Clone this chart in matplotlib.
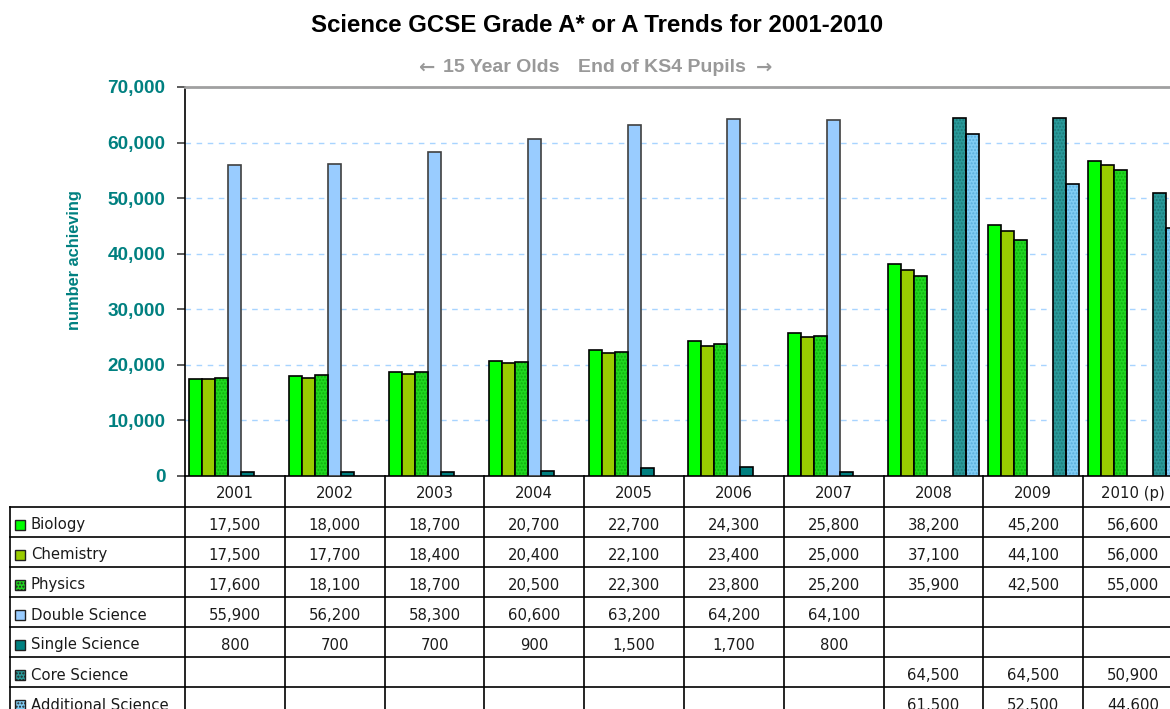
import numpy as np
import matplotlib.pyplot as plt
from matplotlib.patches import Rectangle

years = ['2001', '2002', '2003', '2004', '2005', '2006', '2007', '2008', '2009', '2010 (p)']
series_names = ['Biology', 'Chemistry', 'Physics', 'Double Science', 'Single Science',
                'Core Science', 'Additional Science']

nan = np.nan
biology = [17500, 18000, 18700, 20700, 22700, 24300, 25800, 38200, 45200, 56600]
chemistry = [17500, 17700, 18400, 20400, 22100, 23400, 25000, 37100, 44100, 56000]
physics = [17600, 18100, 18700, 20500, 22300, 23800, 25200, 35900, 42500, 55000]
double_science = [55900, 56200, 58300, 60600, 63200, 64200, 64100, nan, nan, nan]
single_science = [800, 700, 700, 900, 1500, 1700, 800, nan, nan, nan]
core_science = [nan, nan, nan, nan, nan, nan, nan, 64500, 64500, 50900]
additional_science = [nan, nan, nan, nan, nan, nan, nan, 61500, 52500, 44600]

yticks = [0, 10000, 20000, 30000, 40000, 50000, 60000, 70000]

# fill colour, hatch dot colour (None = plain), edge colour
styles = [
    ('#00ff00', None, 'black'),
    ('#99cc00', None, 'black'),
    ('#1fd81f', '#0fb00f', 'black'),
    ('#99ccff', None, '#404040'),
    ('#008080', None, 'black'),
    ('#2a9a9a', '#1f7a7a', 'black'),
    ('#80cdf5', '#5aaedc', 'black'),
]

all_series = [biology, chemistry, physics, double_science, single_science,
              core_science, additional_science]

W, H = 1170, 709
fig = plt.figure(figsize=(W / 100, H / 100), dpi=100)

# plot area in pixels (it runs off the right edge like the original)
px_left, px_right, px_top, px_bottom = 185, 1183, 87, 476
ax = fig.add_axes([px_left / W, 1 - px_bottom / H,
                   (px_right - px_left) / W, (px_bottom - px_top) / H])

n = len(years)
bw = 0.13
pad = (1 - bw * len(all_series)) / 2
x = np.arange(n)

for k, (vals, (fc, hc, ec)) in enumerate(zip(all_series, styles)):
    xs = x + pad + bw * k
    v = np.array(vals, dtype=float)
    if hc is None:
        ax.bar(xs, v, bw, align='edge', color=fc, edgecolor=ec, linewidth=1.2, zorder=3)
    else:
        ax.bar(xs, v, bw, align='edge', color=fc, edgecolor=hc, hatch='.....',
               linewidth=0, zorder=3)
        ax.bar(xs, v, bw, align='edge', fill=False, edgecolor=ec, linewidth=1.2, zorder=4)

ax.set_xlim(0, n)
ax.set_ylim(0, 70000)
ax.set_yticks(yticks)
ax.set_yticklabels([f'{t:,}' for t in yticks], color='#008080', fontweight='bold',
                   fontsize=13.7, family='Liberation Sans')
ax.tick_params(axis='y', direction='out', length=6, width=1.2, color='#404040', pad=8)
ax.set_xticks([])
ax.grid(axis='y', color='#a8d4ff', linestyle=(0, (4, 4)), linewidth=1, zorder=0)
ax.spines['top'].set_color('#a0a0a0')
ax.spines['top'].set_linewidth(2)
ax.spines['right'].set_visible(False)
ax.spines['left'].set_linewidth(1.2)
ax.spines['bottom'].set_linewidth(1.2)

fig.text(75 / W, 1 - 260 / H, 'number achieving', rotation=90, ha='center', va='center',
         color='#008080', fontweight='bold', fontsize=11.8, family='Liberation Sans')

fig.text(597 / W, 1 - 26 / H, 'Science GCSE Grade A* or A Trends for 2001-2010',
         ha='center', va='center', fontweight='bold', fontsize=17.3,
         family='Liberation Sans')

# subtitle in pieces so the arrows come out long like the original
sub_kw = dict(va='center', fontweight='bold', fontsize=14, color='#999999')
fig.text(426 / W, 1 - 67 / H, '\u2190', ha='center', family='DejaVu Sans', **sub_kw)
fig.text(501 / W, 1 - 67 / H, '15 Year Olds', ha='center', family='Liberation Sans', **sub_kw)
fig.text(662 / W, 1 - 67 / H, 'End of KS4 Pupils', ha='center', family='Liberation Sans', **sub_kw)
fig.text(764 / W, 1 - 67 / H, '\u2192', ha='center', family='DejaVu Sans', **sub_kw)

# data table below the plot
def fy(py):
    return 1 - py / H

def fx(px):
    return px / W

col_w = (px_right - px_left) / n
row_h = 30
header_top = px_bottom
header_bot = header_top + 31
tbl_left = 10
line_kw = dict(color='black', linewidth=1.2, transform=fig.transFigure)

n_rows = len(series_names)
table_bottom = header_bot + row_h * n_rows + 10
# vertical lines
for i in range(n + 1):
    xp = px_left + col_w * i
    fig.add_artist(plt.Line2D([fx(xp), fx(xp)], [fy(header_top), fy(table_bottom)], **line_kw))
fig.add_artist(plt.Line2D([fx(tbl_left), fx(tbl_left)], [fy(header_bot), fy(table_bottom)], **line_kw))
# horizontal lines
for r in range(n_rows + 1):
    yp = header_bot + row_h * r
    fig.add_artist(plt.Line2D([fx(tbl_left), fx(W + 20)], [fy(yp), fy(yp)], **line_kw))

tkw = dict(ha='center', va='center', fontsize=10.7, family='DejaVu Sans', color='#1a1a1a')
for i, yr in enumerate(years):
    cx = px_left + col_w * (i + 0.5)
    fig.text(fx(cx), fy((header_top + header_bot) / 2 + 2), yr, **tkw)

for r, (name, vals, (fc, hc, ec)) in enumerate(zip(series_names, all_series, styles)):
    cy = header_bot + row_h * (r + 0.5) + 3
    sq = 10
    fig.add_artist(Rectangle((fx(15), fy(cy + sq / 2)), sq / W, sq / H, transform=fig.transFigure,
                             facecolor=fc, edgecolor='#202020', linewidth=1,
                             hatch='.....' if hc else None))
    fig.text(fx(31), fy(cy), name, ha='left', va='center', fontsize=10.7,
             family='DejaVu Sans', color='#1a1a1a')
    for i, v in enumerate(vals):
        if not np.isnan(v):
            cx = px_left + col_w * (i + 0.5)
            fig.text(fx(cx), fy(cy), f'{int(v):,}', **tkw)

fig.savefig('out.png', dpi=100)
